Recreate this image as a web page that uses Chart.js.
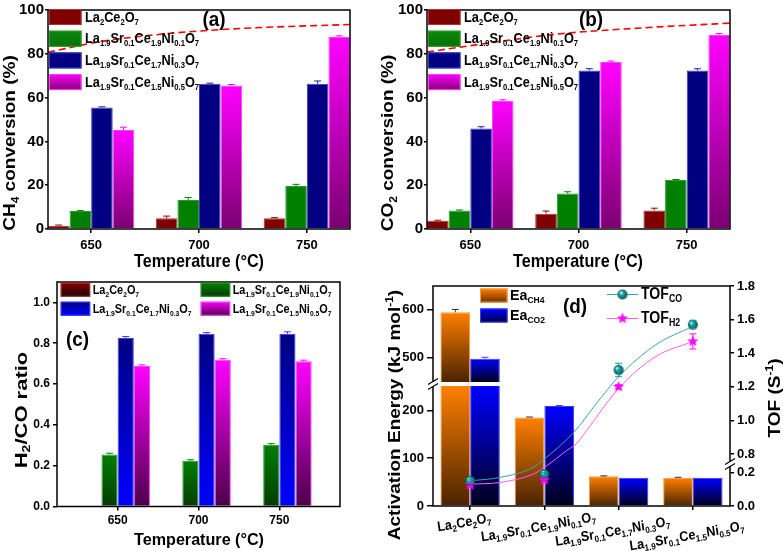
<!DOCTYPE html>
<html>
<head>
<meta charset="utf-8">
<script src="https://cdn.jsdelivr.net/npm/chart.js@4.4.1/dist/chart.umd.min.js"></script>
<style>
  html, body { margin: 0; padding: 0; background: #fff; }
  #wrap { position: relative; width: 783px; height: 551px; }
  #wrap canvas { position: absolute; left: 0; top: 0; }
</style>
</head>
<body>
<div id="wrap">
  <canvas id="ca" width="783" height="551"></canvas>
  <canvas id="cb" width="783" height="551"></canvas>
  <canvas id="cc" width="783" height="551"></canvas>
  <canvas id="cd" width="783" height="551"></canvas>
</div>
<script>
// ---- data ----
const temps = [650, 700, 750];
const catalysts = [
  'La_{2}Ce_{2}O_{7}',
  'La_{1.9}Sr_{0.1}Ce_{1.9}Ni_{0.1}O_{7}',
  'La_{1.9}Sr_{0.1}Ce_{1.7}Ni_{0.3}O_{7}',
  'La_{1.9}Sr_{0.1}Ce_{1.5}Ni_{0.5}O_{7}'
];

// (a) CH4 conversion, one row per catalyst
const ch4Conv = [[1.5, 4.9, 4.9], [8.2, 13.2, 19.6], [55.5, 66.3, 66.3], [45.2, 65.5, 87.7]];
const ch4Err = [[0.3, 1.0, 0.3], [0.2, 1.2, 0.8], [0.3, 0.3, 1.3], [1.3, 0.5, 0.5]];
const eqTempsCH4 = [630, 654, 682, 716, 770];
const eqCH4 = [80.7, 85.5, 88.9, 91.4, 93.4];

// (b) CO2 conversion
const co2Conv = [[3.8, 7.0, 8.5], [8.4, 16.2, 22.4], [45.9, 72.4, 72.4], [58.4, 76.2, 88.6]];
const co2Err = [[0.2, 1.2, 1.0], [0.3, 0.8, 0.2], [0.8, 0.8, 0.8], [0.6, 0.5, 0.7]];
const eqTempsCO2 = [630, 659, 690, 736, 770];
const eqCO2 = [80.8, 85.0, 89.0, 92.2, 94.0];

// (c) H2/CO ratio
const h2coRatio = [[0, 0, 0], [0.255, 0.224, 0.303], [0.826, 0.846, 0.846], [0.688, 0.719, 0.712]];
const h2coErr = [[0, 0, 0], [0.006, 0.005, 0.005], [0.007, 0.006, 0.01], [0.006, 0.005, 0.005]];

// (d) activation energy and TOF, one value per catalyst
const eaCH4 = [595, 185, 62, 59];
const eaCH4Err = [6, 1, 1, 1];
const eaCO2 = [498, 209, 59, 59];
const eaCO2Err = [3, 1, 0, 0];
const tofCO = [0.15, 0.19, 1.30, 1.57];
const tofCOErr = [0.01, 0.01, 0.04, 0.025];
const tofH2 = [0.125, 0.155, 1.20, 1.47];
const tofH2Err = [0.01, 0.01, 0.012, 0.045];
// fitted curves as drawn in the figure (x = catalyst index)
const fitCOx = [0, 0.4, 0.85, 1.0, 1.4, 1.7, 2.0, 2.5, 3.0];
const fitCO = [0.15, 0.17, 0.23, 0.77, 0.93, 1.10, 1.26, 1.45, 1.56];
const fitH2x = [0, 0.4, 0.85, 1.0, 1.3, 1.43, 1.57, 2.0, 2.5, 3.0];
const fitH2 = [0.13, 0.14, 0.19, 0.23, 0.82, 0.86, 0.94, 1.19, 1.38, 1.47];

// ---- setup ----
const FAM = '"Liberation Sans", Arial, Helvetica, sans-serif';
Chart.defaults.font.family = FAM;
Chart.defaults.font.weight = 'bold';
Chart.defaults.font.size = 13;
Chart.defaults.color = '#000';

// broken axes for panel (d)
const BREAKS = { yL: [[0, 255], [445, 650]], yR: [[0, 0.25], [0.74, 1.8]] };

class BrokenScale extends Chart.LinearScale {
  getPixelForValue(value) {
    const segs = BREAKS[this.id];
    let total = 0, pos = 0;
    segs.forEach(([lo, hi]) => {
      total += hi - lo;
      pos += Math.min(Math.max(value, lo), hi) - lo;
    });
    return this.getPixelForDecimal(pos / total);
  }
}
BrokenScale.id = 'broken';
BrokenScale.defaults = Chart.LinearScale.defaults;
Chart.register(BrokenScale);

// text with _{sub} and ^{sup}
function richParts(str) {
  const parts = [];
  const re = /([_^])\{([^}]*)\}|([^_^]+)/g;
  let m;
  while ((m = re.exec(str))) {
    if (m[3]) parts.push({ t: m[3], k: 0 });
    else parts.push({ t: m[2], k: m[1] === '_' ? 1 : -1 });
  }
  return parts;
}

function drawRich(ctx, str, x, y, o) {
  const size = o.size || 14;
  const parts = richParts(str);
  const fontFor = k => 'bold ' + (k ? Math.round(size * 0.62) : size) + 'px ' + FAM;
  let w = 0;
  parts.forEach(p => { ctx.font = fontFor(p.k); p.w = ctx.measureText(p.t).width; w += p.w; });
  ctx.save();
  ctx.translate(x, y);
  ctx.scale(o.sx || 1, 1);
  ctx.rotate(o.rot || 0);
  ctx.fillStyle = o.color || '#000';
  ctx.textBaseline = 'middle';
  ctx.textAlign = 'left';
  let cx = o.align === 'left' ? 0 : o.align === 'right' ? -w : -w / 2;
  parts.forEach(p => {
    ctx.font = fontFor(p.k);
    const dy = p.k > 0 ? size * 0.32 : p.k < 0 ? -size * 0.38 : 0;
    ctx.fillText(p.t, cx, dy);
    cx += p.w;
  });
  ctx.restore();
}

function okPx(...v) { return v.every(n => isFinite(n)); }

function barGrad(top, bottom, axisId) {
  return c => {
    if (!c.parsed) return top;
    const s = c.chart.scales[axisId || 'y'];
    const y0 = s.getPixelForValue(c.parsed.y), y1 = s.getPixelForValue(0);
    if (!okPx(y0, y1) || Math.abs(y1 - y0) < 1) return top;
    const g = c.chart.ctx.createLinearGradient(0, y0, 0, y1);
    g.addColorStop(0, top);
    g.addColorStop(1, bottom);
    return g;
  };
}

// gradient restarting below the axis break
function brokenGrad(top, bottom) {
  return c => {
    if (!c.parsed) return top;
    const s = c.chart.scales.yL;
    const v = c.parsed.y;
    const y0 = s.getPixelForValue(v), y1 = s.getPixelForValue(0);
    const yb = s.getPixelForValue(BREAKS.yL[0][1]);
    if (!okPx(y0, y1, yb) || Math.abs(y1 - y0) < 1) return top;
    const g = c.chart.ctx.createLinearGradient(0, y0, 0, y1);
    g.addColorStop(0, top);
    if (v > BREAKS.yL[1][0]) {
      g.addColorStop(Math.min(1, Math.max(0, (yb - 2 - y0) / (y1 - y0))), bottom);
      g.addColorStop(Math.min(1, Math.max(0, (yb + 2 - y0) / (y1 - y0))), top);
    }
    g.addColorStop(1, bottom);
    return g;
  };
}

function makeSphere(r) {
  const c = document.createElement('canvas');
  c.width = c.height = 2 * r + 2;
  const x = c.getContext('2d');
  const g = x.createRadialGradient(r * 0.7 + 1, r * 0.6 + 1, 0.5, r + 1, r + 1, r);
  g.addColorStop(0, '#c8ffff');
  g.addColorStop(0.35, '#1aa3a3');
  g.addColorStop(1, '#045454');
  x.fillStyle = g;
  x.beginPath();
  x.arc(r + 1, r + 1, r, 0, Math.PI * 2);
  x.fill();
  return c;
}

function makeStar(R, color) {
  const c = document.createElement('canvas');
  c.width = c.height = 2 * R + 2;
  const x = c.getContext('2d');
  x.fillStyle = color;
  x.beginPath();
  for (let i = 0; i < 10; i++) {
    const rr = i % 2 ? R * 0.42 : R;
    const a = -Math.PI / 2 + i * Math.PI / 5;
    x.lineTo(R + 1 + rr * Math.cos(a), R + 1 + rr * Math.sin(a));
  }
  x.closePath();
  x.fill();
  return c;
}

const sphereImg = makeSphere(5);
const starImg = makeStar(6, '#ff00ff');

// error bars for datasets carrying an `errors` array
const errorBars = {
  id: 'errorBars',
  afterDatasetsDraw(chart) {
    const ctx = chart.ctx;
    chart.data.datasets.forEach((ds, di) => {
      if (!ds.errors) return;
      const meta = chart.getDatasetMeta(di);
      const ys = chart.scales[meta.yAxisID];
      ctx.save();
      ctx.strokeStyle = ds.errorColor || '#000';
      ctx.lineWidth = 1;
      meta.data.forEach((el, i) => {
        const e = ds.errors[i];
        if (!e) return;
        const v = meta.controller.getParsed(i).y;
        const cap = ds.errorCap || 3.5;
        const yt = ys.getPixelForValue(v + e);
        const yb = ds.errorUpOnly ? ys.getPixelForValue(v) : ys.getPixelForValue(v - e);
        ctx.beginPath();
        ctx.moveTo(el.x, yb); ctx.lineTo(el.x, yt);
        ctx.moveTo(el.x - cap, yt); ctx.lineTo(el.x + cap, yt);
        if (!ds.errorUpOnly) { ctx.moveTo(el.x - cap, yb); ctx.lineTo(el.x + cap, yb); }
        ctx.stroke();
      });
      ctx.restore();
    });
  }
};
Chart.register(errorBars);

function legendItem(ctx, it) {
  ctx.save();
  if (it.box) {
    const [x, y, w, h] = it.box;
    const g = ctx.createLinearGradient(0, y, 0, y + h);
    g.addColorStop(0, it.top);
    g.addColorStop(1, it.bottom || it.top);
    ctx.fillStyle = g;
    ctx.fillRect(x, y, w, h);
    if (it.edge) {
      ctx.strokeStyle = it.edge;
      ctx.lineWidth = 1;
      ctx.strokeRect(x + 0.5, y + 0.5, w - 1, h - 1);
    }
  }
  if (it.line) {
    const [x1, x2, y] = it.line;
    ctx.strokeStyle = it.color;
    ctx.lineWidth = 1.2;
    ctx.beginPath(); ctx.moveTo(x1, y); ctx.lineTo(x2, y); ctx.stroke();
    if (it.img) ctx.drawImage(it.img, (x1 + x2) / 2 - it.img.width / 2, y - it.img.height / 2);
  }
  ctx.restore();
  drawRich(ctx, it.text, it.tx, it.ty, { size: it.size, sx: it.sx, align: 'left' });
}

// frame, titles, legend
function decor(cfg) {
  return {
    id: 'decor',
    afterDatasetDraw(chart, args) {
      if (cfg.afterBars) cfg.afterBars(chart, args);
    },
    afterDraw(chart) {
      const ctx = chart.ctx, a = chart.chartArea;
      ctx.save();
      ctx.strokeStyle = '#000';
      ctx.lineWidth = 1.5;
      ctx.strokeRect(a.left, a.top, a.right - a.left, a.bottom - a.top);
      ctx.restore();
      if (cfg.afterFrame) cfg.afterFrame(chart);
      (cfg.legend || []).forEach(it => legendItem(ctx, it));
      (cfg.texts || []).forEach(t => drawRich(ctx, t.text, t.x, t.y, t));
    }
  };
}

const tickGrid = len => ({
  display: true, drawOnChartArea: false, drawTicks: true, tickLength: len,
  color: '#000', lineWidth: 1.5, offset: false
});

const baseOpts = {
  responsive: false,
  devicePixelRatio: 1,
  animation: false,
  events: [],
  plugins: { legend: { display: false }, tooltip: { enabled: false } }
};

function tempAxis(min, max, pad, h, size) {
  return {
    type: 'linear', min, max, offset: false,
    afterBuildTicks: s => { s.ticks = temps.map(v => ({ value: v })); },
    afterFit: s => { s.height = h; },
    grid: tickGrid(4), border: { display: false },
    ticks: { padding: pad, maxRotation: 0, font: { size, weight: 'bold' } }
  };
}

// ---- panels (a) and (b) ----
const convFill = ['#800000', '#008000', '#000080', null];
const convEdge = ['#a33', '#2a9a2a', '#3a3ac8', '#ff40ff'];
const convErr = ['#a00000', '#008000', '#2020a0', '#ff00ff'];
const convLegTop = ['#800000', '#0c8a0c', '#000080', '#ff00ff'];
const convLegBot = ['#800000', '#067006', '#000080', '#800070'];

function convChart(canvasId, vals, errs, eqT, eqV, o) {
  const datasets = catalysts.map((name, k) => ({
    type: 'bar', label: name, order: 2,
    data: temps.map((t, i) => ({ x: t, y: vals[k][i] })),
    backgroundColor: k === 3 ? barGrad('#ff00ff', '#7a0070') : convFill[k],
    borderColor: convEdge[k], borderWidth: 1,
    categoryPercentage: 0.8, barPercentage: 1,
    errors: errs[k], errorColor: convErr[k], errorUpOnly: true
  }));
  datasets.push({
    type: 'line', label: 'equilibrium', order: 0,
    data: eqT.map((t, i) => ({ x: t, y: eqV[i] })),
    borderColor: '#ff0000', borderWidth: 1.6, borderDash: [7, 4],
    pointRadius: 0, cubicInterpolationMode: 'monotone', fill: false
  });
  return new Chart(document.getElementById(canvasId), {
    type: 'bar',
    data: { datasets },
    options: Object.assign({}, baseOpts, {
      layout: { padding: o.pad },
      scales: {
        x: tempAxis(630, 770, 5, 40, 13),
        y: {
          type: 'linear', min: 0, max: 100,
          afterFit: s => { s.width = o.yw; },
          grid: tickGrid(3), border: { display: false },
          ticks: { stepSize: 20, padding: 1, font: { size: 15, weight: 'bold' } }
        }
      }
    }),
    plugins: [decor({
      legend: catalysts.map((name, k) => ({
        box: [o.lx, 9 + 21.7 * k, 32.5, 16], top: convLegTop[k], bottom: convLegBot[k], edge: convEdge[k],
        text: name, tx: o.lx + 36, ty: 17.5 + 21.7 * k, size: 15, sx: 0.85
      })),
      texts: [
        { text: 'Temperature (°C)', x: o.cx, y: 262, size: 19, sx: 0.85 },
        { text: o.ytitle, x: o.yx, y: 143, size: 19, sx: 0.85, rot: -Math.PI / 2 },
        { text: o.tag, x: o.tagx, y: 20, size: 21, sx: 0.9 }
      ]
    })]
  });
}

convChart('ca', ch4Conv, ch4Err, eqTempsCH4, eqCH4, {
  pad: { left: 2, top: 7, right: 433, bottom: 282 }, yw: 46, lx: 49, cx: 199,
  ytitle: 'CH_{4} conversion (%)', yx: 11, tag: '(a)', tagx: 214
});
convChart('cb', co2Conv, co2Err, eqTempsCO2, eqCO2, {
  pad: { left: 390, top: 7, right: 53, bottom: 282 }, yw: 37, lx: 428, cx: 578,
  ytitle: 'CO_{2} conversion (%)', yx: 389, tag: '(b)', tagx: 591
});

// ---- panel (c) ----
const ratioTop = ['#8b0000', '#008000', '#000080', '#ff00ff'];
const ratioBot = ['#1a0000', '#043a04', '#0000ff', '#4a0048'];
const ratioEdge = ['#a33', '#2a9a2a', '#3a3aff', '#ff40ff'];
const ratioErr = ['#800000', '#008000', '#3a3aff', '#ff00ff'];
const legCol = [60.7, 200.7, 60.7, 200.7];
const legRow = [282.7, 282.7, 301.7, 301.7];

new Chart(document.getElementById('cc'), {
  type: 'bar',
  data: {
    datasets: catalysts.map((name, k) => ({
      type: 'bar', label: name,
      data: temps.map((t, i) => ({ x: t, y: h2coRatio[k][i] })),
      backgroundColor: barGrad(ratioTop[k], ratioBot[k]),
      borderColor: ratioEdge[k], borderWidth: k === 0 ? 0 : 1,
      categoryPercentage: 0.8, barPercentage: 1,
      errors: h2coErr[k], errorColor: ratioErr[k], errorUpOnly: true
    }))
  },
  options: Object.assign({}, baseOpts, {
    layout: { padding: { left: 17, top: 282, right: 443, bottom: 14.5 } },
    scales: {
      x: tempAxis(612.5, 787.5, 3, 30, 12),
      y: {
        type: 'linear', min: 0, max: 1.1,
        afterFit: s => { s.width = 40; },
        grid: tickGrid(4), border: { display: false },
        ticks: { stepSize: 0.2, includeBounds: false, padding: 3, callback: v => v.toFixed(1), font: { size: 12, weight: 'bold' } }
      }
    }
  }),
  plugins: [decor({
    legend: catalysts.map((name, k) => ({
      box: [legCol[k], legRow[k], 29.5, 14], top: ratioTop[k], bottom: ratioBot[k], edge: ratioEdge[k],
      text: name, tx: legCol[k] + 32, ty: legRow[k] + 7.5, size: 13, sx: 0.84
    })),
    texts: [
      { text: 'Temperature (°C)', x: 199, y: 540, size: 17, sx: 0.95 },
      { text: 'H_{2}/CO ratio', x: 22, y: 410, size: 22, sx: 0.75, rot: -Math.PI / 2 },
      { text: '(c)', x: 77.5, y: 340, size: 21, sx: 0.9 }
    ]
  })]
});

// ---- panel (d) ----
const idx = catalysts.map((_, i) => i);

new Chart(document.getElementById('cd'), {
  type: 'bar',
  data: {
    datasets: [
      {
        type: 'line', label: 'TOF CO', order: 0, yAxisID: 'yR',
        data: idx.map(i => ({ x: i, y: tofCO[i] })),
        showLine: false, pointStyle: sphereImg, pointRadius: 5,
        errors: tofCOErr, errorColor: '#1a9a9a'
      },
      {
        type: 'line', label: 'TOF H2', order: 0, yAxisID: 'yR',
        data: idx.map(i => ({ x: i, y: tofH2[i] })),
        showLine: false, pointStyle: starImg, pointRadius: 6,
        errors: tofH2Err, errorColor: '#ff00ff'
      },
      {
        type: 'line', label: 'fit CO', order: 1, yAxisID: 'yR',
        data: fitCOx.map((x, i) => ({ x, y: fitCO[i] })),
        borderColor: '#3aa6a6', borderWidth: 1, pointRadius: 0,
        cubicInterpolationMode: 'monotone', fill: false
      },
      {
        type: 'line', label: 'fit H2', order: 1, yAxisID: 'yR',
        data: fitH2x.map((x, i) => ({ x, y: fitH2[i] })),
        borderColor: '#ff5cff', borderWidth: 1, pointRadius: 0,
        cubicInterpolationMode: 'monotone', fill: false
      },
      {
        type: 'bar', label: 'Ea CH4', order: 2, yAxisID: 'yL',
        data: idx.map(i => ({ x: i, y: eaCH4[i] })),
        backgroundColor: brokenGrad('#ff8000', '#4a2200'),
        borderColor: '#ff9a33', borderWidth: 1,
        categoryPercentage: 0.8, barPercentage: 1,
        errors: eaCH4Err, errorColor: '#333', errorUpOnly: true
      },
      {
        type: 'bar', label: 'Ea CO2', order: 2, yAxisID: 'yL',
        data: idx.map(i => ({ x: i, y: eaCO2[i] })),
        backgroundColor: brokenGrad('#0000ff', '#00001a'),
        borderColor: '#3a3aff', borderWidth: 1,
        categoryPercentage: 0.8, barPercentage: 1,
        errors: eaCO2Err, errorColor: '#3a3aff', errorUpOnly: true
      }
    ]
  },
  options: Object.assign({}, baseOpts, {
    layout: { padding: { left: 393, top: 286, right: 8, bottom: 35 } },
    scales: {
      x: {
        type: 'linear', min: -0.5, max: 3.5, offset: false,
        afterBuildTicks: s => { s.ticks = idx.map(v => ({ value: v })); },
        afterFit: s => { s.height = 10; },
        grid: tickGrid(4), border: { display: false },
        ticks: { display: false }
      },
      yL: {
        type: 'broken', position: 'left', min: 0, max: 650,
        afterBuildTicks: s => { s.ticks = [0, 100, 200, 500, 600].map(v => ({ value: v })); },
        afterFit: s => { s.width = 40; },
        grid: tickGrid(6), border: { display: false },
        ticks: { padding: 3, font: { size: 13, weight: 'bold' } }
      },
      yR: {
        type: 'broken', position: 'right', min: 0, max: 1.8,
        afterBuildTicks: s => { s.ticks = [0, 0.2, 0.8, 1.0, 1.2, 1.4, 1.6, 1.8].map(v => ({ value: v })); },
        afterFit: s => { s.width = 45; },
        grid: tickGrid(4), border: { display: false },
        ticks: { padding: 3, callback: v => v.toFixed(1), font: { size: 13, weight: 'bold' } }
      }
    }
  }),
  plugins: [decor({
    afterBars(chart, args) {
      if (args.meta.type !== 'bar') return;
      const ctx = chart.ctx;
      const yb = chart.scales.yL.getPixelForValue(BREAKS.yL[0][1]);
      ctx.save();
      ctx.fillStyle = '#fff';
      args.meta.data.forEach(el => {
        if (el.y < yb - 2) ctx.fillRect(el.x - el.width / 2 - 1, yb - 2, el.width + 2, 4);
      });
      ctx.restore();
    },
    afterFrame(chart) {
      const ctx = chart.ctx, a = chart.chartArea;
      const ybL = chart.scales.yL.getPixelForValue(BREAKS.yL[0][1]);
      const ybR = chart.scales.yR.getPixelForValue(BREAKS.yR[0][1]);
      ctx.save();
      [[a.left, ybL], [a.right, ybR]].forEach(([x, y]) => {
        ctx.fillStyle = '#fff';
        ctx.fillRect(x - 2, y - 2.5, 4, 5);
        ctx.strokeStyle = '#000';
        ctx.lineWidth = 1.2;
        [-2.5, 2.5].forEach(d => {
          ctx.beginPath();
          ctx.moveTo(x - 5, y + d + 3);
          ctx.lineTo(x + 5, y + d - 3);
          ctx.stroke();
        });
      });
      ctx.restore();
      const xs = chart.scales.x;
      catalysts.forEach((name, i) => {
        drawRich(ctx, name, xs.getPixelForValue(i) - 6, 523 + 4.5 * i, { size: 14, sx: 0.9, rot: -0.16 });
      });
    },
    legend: [
      { box: [480, 288.5, 27.5, 14], top: '#ff8000', bottom: '#6a3000', edge: '#ff9a33', text: 'Ea_{CH4}', tx: 510, ty: 295.5, size: 15, sx: 0.95 },
      { box: [480, 308.5, 27.5, 14], top: '#0000ff', bottom: '#00003a', edge: '#3a3aff', text: 'Ea_{CO2}', tx: 510, ty: 315.5, size: 15, sx: 0.95 },
      { line: [606.7, 638.3, 294.5], color: '#3aa6a6', img: sphereImg, text: 'TOF_{CO}', tx: 641, ty: 294.5, size: 16, sx: 0.88 },
      { line: [606.7, 638.3, 318.5], color: '#ff5cff', img: starImg, text: 'TOF_{H2}', tx: 641, ty: 318.5, size: 16, sx: 0.88 }
    ],
    texts: [
      { text: 'Activation Energy (kJ mol^{-1})', x: 396, y: 415, size: 19, sx: 0.85, rot: -Math.PI / 2 },
      { text: 'TOF (S^{-1})', x: 776, y: 398, size: 19, sx: 0.85, rot: -Math.PI / 2 },
      { text: '(d)', x: 575, y: 307, size: 21, sx: 0.9 }
    ]
  })]
});
</script>
</body>
</html>
